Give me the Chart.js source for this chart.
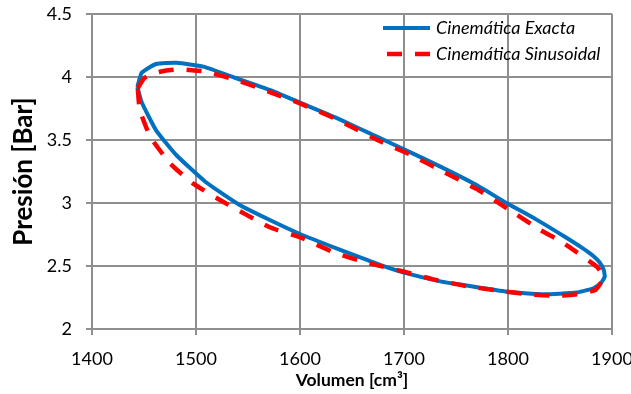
<!DOCTYPE html>
<html>
<head>
<meta charset="utf-8">
<script src="https://cdn.jsdelivr.net/npm/chart.js@4.4.0/dist/chart.umd.min.js"></script>
<style>
  html, body { margin: 0; padding: 0; background: #fff; }
  #wrap { width: 631px; height: 394px; }
</style>
</head>
<body>
<div id="wrap"><canvas id="c" width="631" height="394"></canvas></div>
<script>
// Ciclo presión-volumen: cinemática exacta frente a cinemática sinusoidal
const seriesNames = ['Cinemática Exacta', 'Cinemática Sinusoidal'];

const exactaVol  = [1443.6, 1447.8, 1461.5, 1481.4, 1507, 1539, 1571, 1600, 1635, 1677, 1700, 1736, 1768, 1799, 1827, 1855, 1872, 1882, 1888, 1892, 1893, 1889, 1882, 1866, 1834, 1799, 1757, 1736, 1700, 1677, 1635, 1600, 1571, 1542, 1509, 1481, 1461.5, 1447.8, 1443.6];
const exactaPres = [3.92, 4.034, 4.103, 4.113, 4.082, 3.99, 3.897, 3.796, 3.675, 3.515, 3.426, 3.285, 3.15, 2.998, 2.87, 2.73, 2.64, 2.58, 2.53, 2.47, 2.415, 2.36, 2.323, 2.29, 2.275, 2.296, 2.349, 2.376, 2.447, 2.508, 2.640, 2.754, 2.865, 2.984, 3.169, 3.381, 3.579, 3.80, 3.92];

const sinusVol  = [1444, 1450, 1460, 1470, 1486, 1510, 1539, 1571, 1600, 1635, 1677, 1707, 1735, 1770, 1799, 1831, 1850, 1866, 1878, 1886, 1890, 1890, 1884, 1869, 1847, 1820, 1799, 1760, 1728, 1700, 1667, 1635, 1600, 1571, 1523, 1497, 1475, 1456, 1446, 1444];
const sinusPres = [3.91, 3.99, 4.03, 4.05, 4.061, 4.042, 3.976, 3.88, 3.79, 3.665, 3.49, 3.38, 3.26, 3.11, 2.958, 2.786, 2.70, 2.61, 2.54, 2.49, 2.44, 2.38, 2.31, 2.278, 2.264, 2.275, 2.296, 2.34, 2.394, 2.455, 2.521, 2.60, 2.728, 2.807, 3.024, 3.156, 3.315, 3.526, 3.738, 3.91];

const xTicks = [1400, 1500, 1600, 1700, 1800, 1900];
const yTicks = [2, 2.5, 3, 3.5, 4, 4.5];

const toPoints = (xs, ys) => xs.map((x, i) => ({ x: x, y: ys[i] }));

const GRID = '#8f8f8f';
const FONT = 'Lato, "Open Sans", sans-serif';

// Sin márgenes automáticos: el área de trazado la fija layout.padding
const noScalePadding = s => {
  s.paddingTop = 0; s.paddingBottom = 0; s.paddingLeft = 0; s.paddingRight = 0;
};

// Leyenda dentro del área de trazado, arriba a la derecha
const insideLegend = {
  id: 'insideLegend',
  afterDatasetsDraw(chart) {
    const ctx = chart.ctx;
    const rows = [
      { y: 28, x0: 383, x1: 430 },
      { y: 54, x0: 387, x1: 430 }
    ];
    chart.data.datasets.forEach((ds, i) => {
      const r = rows[i];
      ctx.save();
      ctx.strokeStyle = ds.borderColor;
      ctx.lineWidth = ds.borderWidth;
      ctx.setLineDash(ds.borderDash || []);
      ctx.beginPath();
      ctx.moveTo(r.x0, r.y);
      ctx.lineTo(r.x1, r.y);
      ctx.stroke();
      ctx.setLineDash([]);
      ctx.fillStyle = '#000';
      ctx.font = 'italic 18px ' + FONT;
      ctx.textBaseline = 'middle';
      ctx.textAlign = 'left';
      ctx.fillText(ds.label, 436, r.y);
      ctx.restore();
    });
  }
};

new Chart(document.getElementById('c'), {
  type: 'scatter',
  data: {
    datasets: [
      {
        label: seriesNames[0],
        data: toPoints(exactaVol, exactaPres),
        showLine: true,
        borderColor: '#0070C0',
        backgroundColor: '#0070C0',
        borderWidth: 4,
        pointRadius: 0,
        tension: 0.15,
        borderJoinStyle: 'round',
        order: 1
      },
      {
        label: seriesNames[1],
        data: toPoints(sinusVol, sinusPres),
        showLine: true,
        borderColor: '#FF0000',
        backgroundColor: '#FF0000',
        borderWidth: 4.5,
        borderDash: [15, 13],
        pointRadius: 0,
        tension: 0.15,
        order: 0
      }
    ]
  },
  options: {
    responsive: false,
    devicePixelRatio: 1,
    animation: false,
    layout: { autoPadding: false, padding: { top: 14, right: 19, left: 0, bottom: 0 } },
    plugins: {
      legend: { display: false },
      tooltip: { enabled: false }
    },
    scales: {
      x: {
        type: 'linear',
        min: xTicks[0],
        max: xTicks[xTicks.length - 1],
        afterBuildTicks: s => { s.ticks = xTicks.map(v => ({ value: v })); },
        afterFit: s => { s.height = 65; noScalePadding(s); },
        ticks: {
          color: '#000',
          font: { family: FONT, size: 18 },
          padding: 13,
          maxRotation: 0,
          autoSkip: false,
          callback: v => String(v)
        },
        grid: { color: GRID, lineWidth: 2, tickLength: 6, tickColor: GRID },
        border: { display: true, color: GRID, width: 2 },
        title: {
          display: true,
          text: 'Volumen [cm³]',
          color: '#000',
          font: { family: FONT, size: 17.5, weight: 'bold' },
          padding: { top: 0, bottom: 3 }
        }
      },
      y: {
        type: 'linear',
        min: yTicks[0],
        max: yTicks[yTicks.length - 1],
        afterBuildTicks: s => { s.ticks = yTicks.map(v => ({ value: v })); },
        afterFit: s => { s.width = 92; noScalePadding(s); },
        ticks: {
          color: '#000',
          font: { family: FONT, size: 18 },
          padding: 14,
          autoSkip: false,
          callback: v => String(v)
        },
        grid: { color: GRID, lineWidth: 2, tickLength: 6, tickColor: GRID },
        border: { display: true, color: GRID, width: 2 },
        title: {
          display: true,
          text: 'Presión [Bar]',
          color: '#000',
          font: { family: FONT, size: 26, weight: 'bold' },
          padding: { top: 8.5, bottom: 0 }
        }
      }
    }
  },
  plugins: [insideLegend]
});
</script>
</body>
</html>
